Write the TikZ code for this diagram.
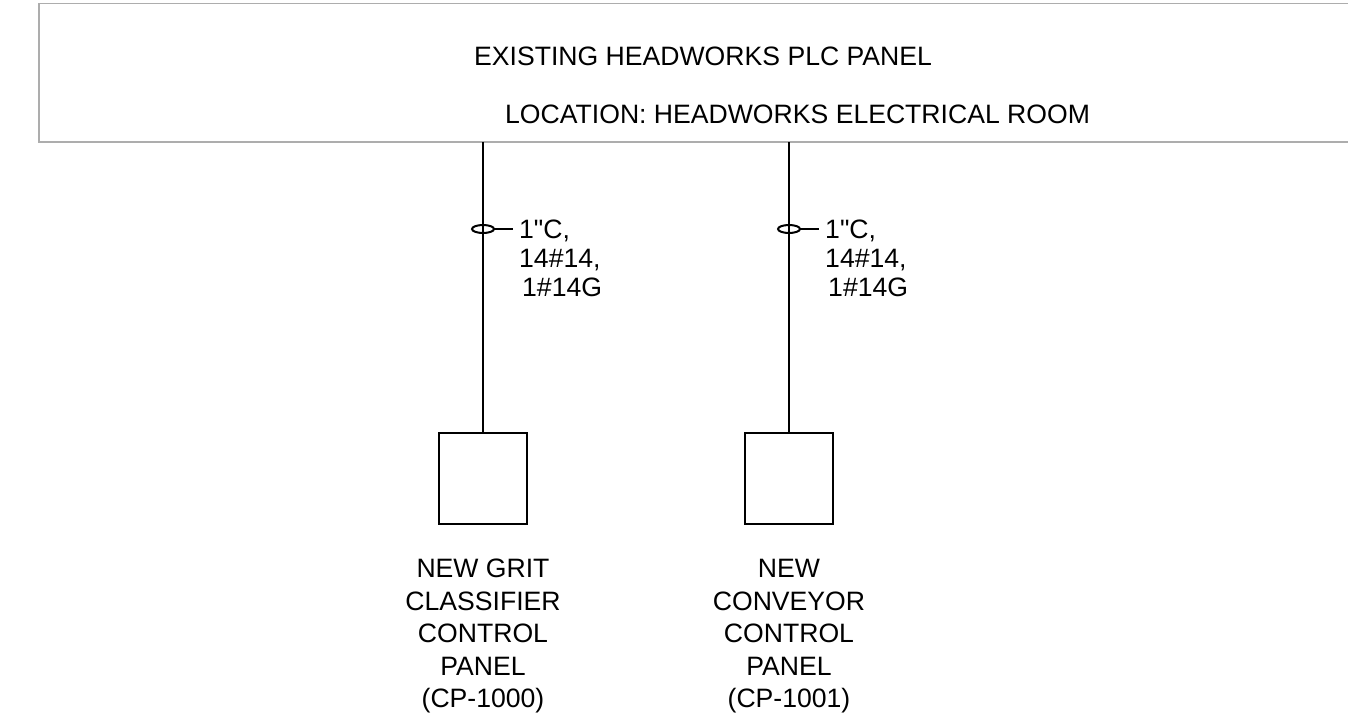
\documentclass[tikz,border=0pt]{standalone}
\usepackage{fontspec}
\setmainfont{Liberation Sans}[Ligatures=TeXOff]
\usepackage{tikz}
\usetikzlibrary{calc}
\usetikzlibrary{positioning}

\begin{document}
\begin{tikzpicture}[x=1pt, y=-1pt,
        kabel/.style={line width=2pt, color=black},
        panelbox/.style={draw, line width=2pt, minimum width=88pt, minimum height=91pt, inner sep=0pt, anchor=north},
        teks/.style={font=\fontsize{26.6}{32.5}\selectfont, inner sep=0pt, text=black},
        tekskabel/.style={font=\fontsize{26.6}{29}\selectfont, inner sep=0pt, align=left, anchor=north west}]
        %BATAS
        \useasboundingbox (0,0) rectangle (1348,724);
        %PANEL LAMA
        \draw[line width=1.5pt, color=black!32] (1348,3.5) -- (39,3.5) -- (39,142) -- (1348,142);
        \node[teks, anchor=base west] (judul) at (474,65) {EXISTING HEADWORKS PLC PANEL};
        \node[teks, anchor=base west] (lokasi) at (505,123) {LOCATION: HEADWORKS ELECTRICAL ROOM};
        %KOORDINAT
        \coordinate (P1) at (483,142);
        \coordinate (P2) at (789,142);
        \coordinate (S1) at (483,229);
        \coordinate (S2) at (789,229);
        \coordinate (U1) at (513,229);
        \coordinate (U2) at (819,229);
        %PANEL BARU
        \node[panelbox] (CP1000) at (483,432) {};
        \node[panelbox] (CP1001) at (789,432) {};
        %KABEL
        \draw[kabel] (P1) -- (CP1000.north);
        \draw[kabel] (P2) -- (CP1001.north);
        \draw[kabel] (S1) ellipse [x radius=11pt, y radius=4pt];
        \draw[kabel] (S2) ellipse [x radius=11pt, y radius=4pt];
        \draw[kabel] (S1) ++(11,0) -- (U1);
        \draw[kabel] (S2) ++(11,0) -- (U2);
        \node[tekskabel] (K1) at (519,219.5) {1"C,\\14\#14,\\\hspace{3pt}1\#14G};
        \node[tekskabel] (K2) at (825,219.5) {1"C,\\14\#14,\\\hspace{3pt}1\#14G};
        %LABEL
        \node[teks, align=center, anchor=north] (N1) at (483,559) {NEW GRIT\\CLASSIFIER\\CONTROL\\PANEL\\(CP-1000)};
        \node[teks, align=center, anchor=north] (N2) at (789,559) {NEW\\CONVEYOR\\CONTROL\\PANEL\\(CP-1001)};
\end{tikzpicture}
\end{document}
